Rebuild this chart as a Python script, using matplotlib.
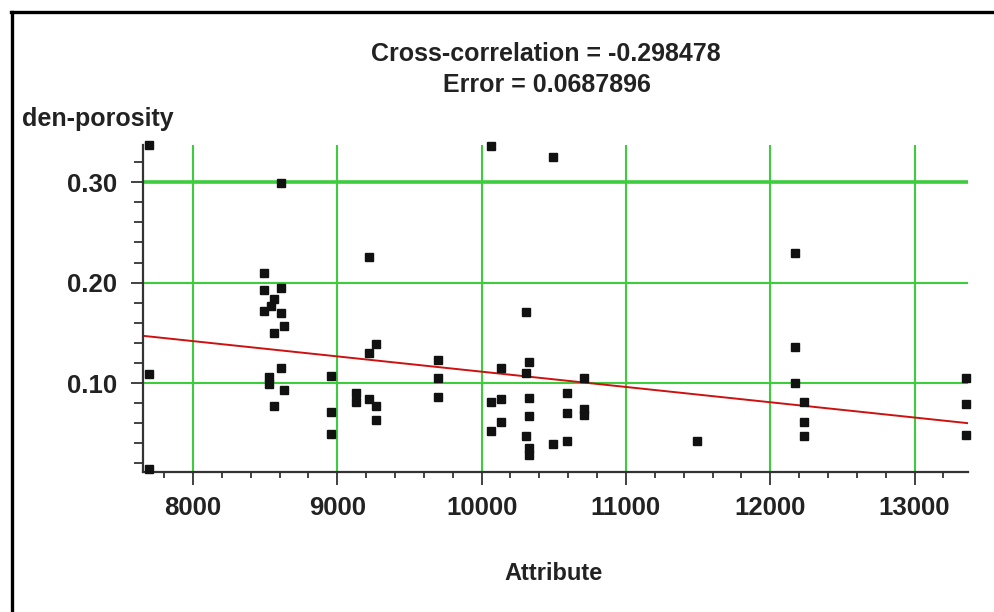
import matplotlib
matplotlib.use("Agg")
import matplotlib.pyplot as plt
from matplotlib.ticker import MultipleLocator, FixedLocator, FixedFormatter
from matplotlib.lines import Line2D

# ---- data ----
attribute = [7698, 8607, 9220, 8491, 8491, 8607, 8561, 8491, 8540, 8607,
             8630, 8565, 9220, 9266, 9698, 9698, 9698, 7698, 8607, 8528,
             8528, 8630, 8565, 8960, 8960, 8960, 9128, 9128, 9220, 9266,
             9266, 7698, 10067, 10498, 10307, 10136, 10330, 10307, 10706, 10067,
             10136, 10330, 10590, 10067, 10136, 10330, 10590, 10706, 10706, 10307,
             10330, 10330, 10498, 10590, 11490, 12173, 12173, 12173, 12235, 12235,
             12235, 13355, 13355, 13355]
porosity = [0.337, 0.299, 0.225, 0.210, 0.193, 0.195, 0.184, 0.172, 0.177, 0.170,
            0.157, 0.150, 0.130, 0.139, 0.123, 0.105, 0.086, 0.109, 0.115, 0.106,
            0.099, 0.093, 0.077, 0.107, 0.071, 0.049, 0.090, 0.081, 0.084, 0.077,
            0.063, 0.014, 0.336, 0.325, 0.171, 0.115, 0.121, 0.110, 0.105, 0.081,
            0.084, 0.085, 0.090, 0.052, 0.061, 0.067, 0.070, 0.074, 0.068, 0.047,
            0.035, 0.028, 0.039, 0.042, 0.042, 0.229, 0.136, 0.100, 0.081, 0.061,
            0.047, 0.105, 0.079, 0.048]

fit_x = [7654, 13370]
fit_y = [0.147, 0.060]

x_major = [8000, 9000, 10000, 11000, 12000, 13000]
x_labels = ["8000", "9000", "10000", "11000", "12000", "13000"]
y_major = [0.10, 0.20, 0.30]
y_labels = ["0.10", "0.20", "0.30"]

title_lines = ["Cross-correlation = -0.298478", "Error = 0.0687896"]
x_title = "Attribute"
y_title = "den-porosity"

# ---- drawing ----
FONT = ["Liberation Sans", "DejaVu Sans"]
plt.rcParams["font.family"] = FONT

fig = plt.figure(figsize=(9.94, 6.12), dpi=100)
ax = fig.add_axes([143 / 994, 1 - 472 / 612, (968 - 143) / 994, (472 - 145) / 612])

ax.set_xlim(7654, 13370)
ax.set_ylim(0.0114, 0.337)

green = "#3ccc3c"
for xv in x_major:
    ax.axvline(xv, color=green, lw=1.5, zorder=1)
for yv in y_major:
    ax.axhline(yv, color=green, lw=2.6 if yv == 0.30 else 1.5, zorder=1)

ax.plot(fit_x, fit_y, color="#cc1111", lw=1.4, zorder=2)
ax.plot(attribute, porosity, linestyle="none", marker="s", markersize=6.2,
        color="#111111", zorder=3, clip_on=False)

for s in ("top", "right"):
    ax.spines[s].set_visible(False)
for s in ("left", "bottom"):
    ax.spines[s].set_color("#333333")
    ax.spines[s].set_linewidth(1.6)

ax.xaxis.set_major_locator(FixedLocator(x_major))
ax.xaxis.set_major_formatter(FixedFormatter(x_labels))
ax.xaxis.set_minor_locator(MultipleLocator(200))
ax.yaxis.set_major_locator(FixedLocator(y_major))
ax.yaxis.set_major_formatter(FixedFormatter(y_labels))
ax.yaxis.set_minor_locator(MultipleLocator(0.02))

ax.tick_params(axis="x", which="major", length=9, width=1.3, color="#333333",
               pad=8, labelsize=18.5)
ax.tick_params(axis="x", which="minor", length=4.5, width=1.3, color="#333333")
ax.tick_params(axis="y", which="major", length=8.5, width=1.3, color="#333333",
               pad=10, labelsize=18.5)
ax.tick_params(axis="y", which="minor", length=6.5, width=1.3, color="#333333")
for lab in ax.get_xticklabels() + ax.get_yticklabels():
    lab.set_fontweight("bold")
    lab.set_color("#222222")

fig.text(546 / 994, 1 - 54 / 612, title_lines[0], ha="center", va="center",
         fontsize=18, fontweight="bold", color="#222222")
fig.text(547 / 994, 1 - 85 / 612, title_lines[1], ha="center", va="center",
         fontsize=18, fontweight="bold", color="#222222")
fig.text(22 / 994, 1 - 119 / 612, y_title, ha="left", va="center",
         fontsize=18, fontweight="bold", color="#222222")
fig.text(554 / 994, 1 - 573 / 612, x_title, ha="center", va="center",
         fontsize=17, fontweight="bold", color="#222222")

# frame lines (left and top) of the original window
fig.add_artist(Line2D([12 / 994, 12 / 994], [0, 1 - 12 / 612], color="black",
                      lw=2.4, transform=fig.transFigure))
fig.add_artist(Line2D([11 / 994, 1], [1 - 12 / 612, 1 - 12 / 612], color="black",
                      lw=2.4, transform=fig.transFigure))

fig.savefig("out.png", dpi=100)
